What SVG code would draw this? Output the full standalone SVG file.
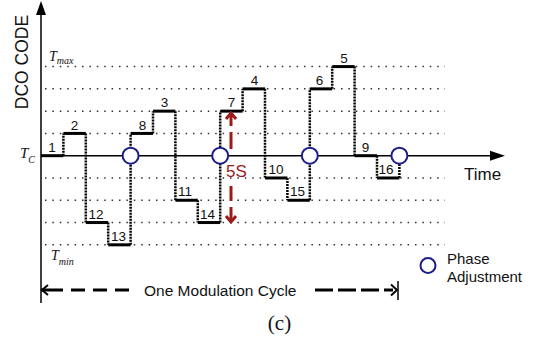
<svg xmlns="http://www.w3.org/2000/svg" width="538" height="341" viewBox="0 0 538 341">
<style>
.grid{stroke:#333;stroke-width:1.5;stroke-dasharray:1.5 5.9;fill:none}
.axis{stroke:#000;stroke-width:1.5;fill:none}
.h{stroke:#000;stroke-width:3;fill:none}
.v{stroke:#000;stroke-width:2.5;stroke-dasharray:2 1;fill:none}
.pa{stroke:#1c1c8a;stroke-width:2;fill:#fff}
.num{font-family:"Liberation Sans",Arial,sans-serif;font-size:13.5px;fill:#111;text-anchor:middle}
.lbl{font-family:"Liberation Sans",Arial,sans-serif;fill:#111}
.tv{font-family:"Liberation Serif","Times New Roman",serif;font-style:italic;fill:#111}
.red{stroke:#9b1b1b;stroke-width:3;fill:none}
.dash{stroke:#000;stroke-width:3;fill:none}
</style>
<g id="gridlines">
<line class="grid" x1="45" y1="66.58" x2="445" y2="66.58"/>
<line class="grid" x1="45" y1="88.86" x2="445" y2="88.86"/>
<line class="grid" x1="45" y1="111.14" x2="445" y2="111.14"/>
<line class="grid" x1="45" y1="133.42" x2="445" y2="133.42"/>
<line class="grid" x1="45" y1="177.98" x2="445" y2="177.98"/>
<line class="grid" x1="45" y1="200.26" x2="445" y2="200.26"/>
<line class="grid" x1="45" y1="222.54" x2="445" y2="222.54"/>
<line class="grid" x1="45" y1="244.82" x2="445" y2="244.82"/>
</g>
<g id="axes">
<line class="axis" x1="41" y1="12" x2="41" y2="303"/>
<polygon points="41,1 36,15 46,15" fill="#000"/>
<line class="axis" x1="41" y1="155.7" x2="492" y2="155.7"/>
<polygon points="505,155.7 490,150.7 490,160.7" fill="#000"/>
<text class="lbl" font-size="17.5" text-anchor="middle" transform="translate(28,62) rotate(-90)">DCO CODE</text>
<text class="lbl" font-size="17" x="464" y="180">Time</text>
<text class="tv" font-size="14" x="49" y="61">T<tspan font-size="10" dy="3">max</tspan></text>
<text class="tv" font-size="15" x="20" y="158">T<tspan font-size="10" dy="5">C</tspan></text>
<text class="tv" font-size="14" x="51" y="260">T<tspan font-size="10" dy="5">min</tspan></text>
</g>
<g id="signal">
<line class="h" x1="41" y1="155.7" x2="63.4" y2="155.7"/>
<line class="h" x1="63.4" y1="133.42" x2="85.8" y2="133.42"/>
<line class="h" x1="85.8" y1="222.54" x2="108.2" y2="222.54"/>
<line class="h" x1="108.2" y1="244.82" x2="130.6" y2="244.82"/>
<line class="h" x1="130.6" y1="133.42" x2="153" y2="133.42"/>
<line class="h" x1="153" y1="111.14" x2="175.4" y2="111.14"/>
<line class="h" x1="175.4" y1="200.26" x2="197.8" y2="200.26"/>
<line class="h" x1="197.8" y1="222.54" x2="220.2" y2="222.54"/>
<line class="h" x1="220.2" y1="111.14" x2="242.6" y2="111.14"/>
<line class="h" x1="242.6" y1="88.86" x2="265" y2="88.86"/>
<line class="h" x1="265" y1="177.98" x2="287.4" y2="177.98"/>
<line class="h" x1="287.4" y1="200.26" x2="309.8" y2="200.26"/>
<line class="h" x1="309.8" y1="88.86" x2="332.2" y2="88.86"/>
<line class="h" x1="332.2" y1="66.58" x2="354.6" y2="66.58"/>
<line class="h" x1="354.6" y1="155.7" x2="377" y2="155.7"/>
<line class="h" x1="377" y1="177.98" x2="399.4" y2="177.98"/>
<line class="v" x1="63.4" y1="155.7" x2="63.4" y2="133.42"/>
<line class="v" x1="85.8" y1="133.42" x2="85.8" y2="222.54"/>
<line class="v" x1="108.2" y1="222.54" x2="108.2" y2="244.82"/>
<line class="v" x1="130.6" y1="244.82" x2="130.6" y2="133.42"/>
<line class="v" x1="153" y1="133.42" x2="153" y2="111.14"/>
<line class="v" x1="175.4" y1="111.14" x2="175.4" y2="200.26"/>
<line class="v" x1="197.8" y1="200.26" x2="197.8" y2="222.54"/>
<line class="v" x1="220.2" y1="222.54" x2="220.2" y2="111.14"/>
<line class="v" x1="242.6" y1="111.14" x2="242.6" y2="88.86"/>
<line class="v" x1="265" y1="88.86" x2="265" y2="177.98"/>
<line class="v" x1="287.4" y1="177.98" x2="287.4" y2="200.26"/>
<line class="v" x1="309.8" y1="200.26" x2="309.8" y2="88.86"/>
<line class="v" x1="332.2" y1="88.86" x2="332.2" y2="66.58"/>
<line class="v" x1="354.6" y1="66.58" x2="354.6" y2="155.7"/>
<line class="v" x1="377" y1="155.7" x2="377" y2="177.98"/>
<line class="v" x1="399.4" y1="177.98" x2="399.4" y2="155.7"/>
</g>
<g id="labels">
<text class="num" x="52" y="151.5">1</text>
<text class="num" x="74.5" y="129.5">2</text>
<text class="num" x="96" y="218.5">12</text>
<text class="num" x="118.5" y="240.8">13</text>
<text class="num" x="142.5" y="129.5">8</text>
<text class="num" x="164.5" y="107">3</text>
<text class="num" x="185" y="196.3">11</text>
<text class="num" x="207.5" y="218.5">14</text>
<text class="num" x="231.5" y="107">7</text>
<text class="num" x="254.5" y="85">4</text>
<text class="num" x="276" y="174">10</text>
<text class="num" x="297.5" y="196.3">15</text>
<text class="num" x="319.5" y="85">6</text>
<text class="num" x="344" y="62.5">5</text>
<text class="num" x="365.5" y="151.5">9</text>
<text class="num" x="386" y="174">16</text>
</g>
<g id="phase-adjust">
<circle class="pa" cx="130.6" cy="155.7" r="8"/>
<circle class="pa" cx="220.2" cy="155.7" r="8"/>
<circle class="pa" cx="309.8" cy="155.7" r="8"/>
<circle class="pa" cx="399.4" cy="155.7" r="8"/>
</g>
<g id="span-5s">
<line class="red" x1="231" y1="113" x2="231" y2="126"/>
<polyline class="red" points="226,119 231,113 236,119"/>
<line class="red" x1="231" y1="132" x2="231" y2="149"/>
<text x="226" y="177" font-family="'Liberation Sans',Arial,sans-serif" font-size="17" fill="#9b1b1b">5S</text>
<line class="red" x1="231" y1="186" x2="231" y2="201"/>
<line class="red" x1="231" y1="207" x2="231" y2="222"/>
<polyline class="red" points="226,216 231,222 236,216"/>
</g>
<g id="cycle">
<line class="dash" x1="49" y1="290" x2="132" y2="290" stroke-dasharray="14 8"/>
<line x1="41" y1="290" x2="49" y2="290" stroke="#000" stroke-width="3"/>
<polyline points="48,285 42,290 48,295" fill="none" stroke="#000" stroke-width="2"/>
<text class="lbl" font-size="15.5" x="144" y="295.5">One Modulation Cycle</text>
<line class="dash" x1="315" y1="290" x2="393" y2="290" stroke-dasharray="18 5"/>
<polyline points="391,284.5 397,290 391,295.5" fill="none" stroke="#000" stroke-width="2"/>
<line x1="398" y1="281" x2="398" y2="300" stroke="#000" stroke-width="1.5"/>
</g>
<g id="legend">
<circle class="pa" cx="428" cy="265.5" r="7.5"/>
<text class="lbl" font-size="15" x="447" y="263.5">Phase</text>
<text class="lbl" font-size="15" x="447" y="282">Adjustment</text>
</g>
<text x="279.5" y="330" font-family="'Liberation Serif','Times New Roman',serif" font-size="21" fill="#111" text-anchor="middle">(c)</text>
</svg>
